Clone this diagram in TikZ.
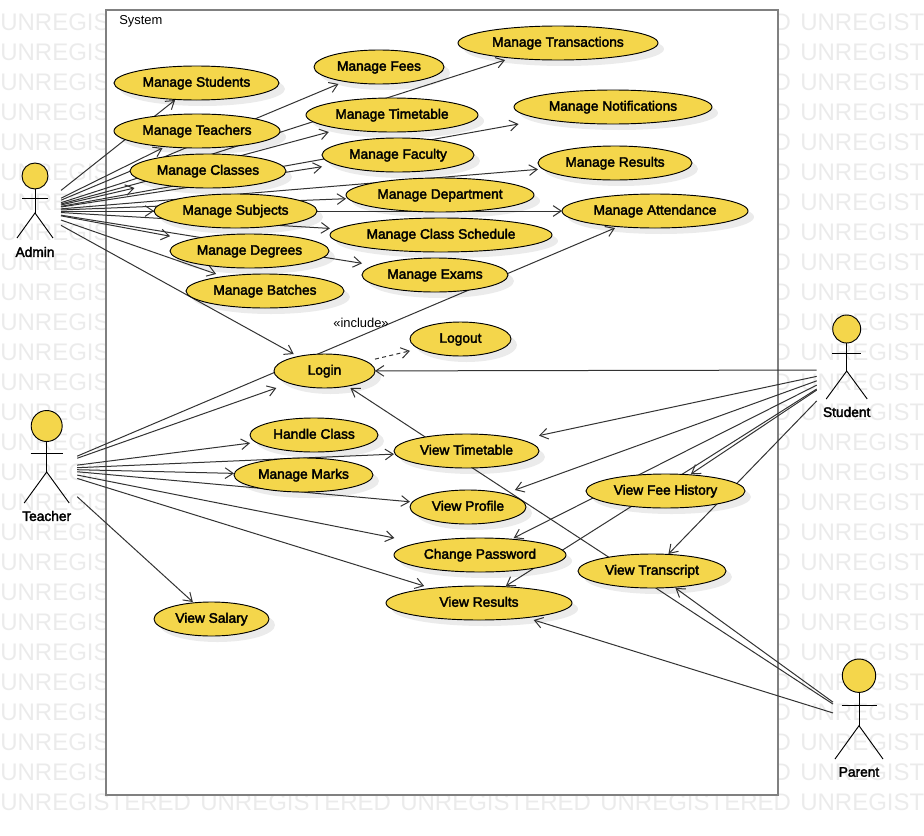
\documentclass[tikz,border=0pt]{standalone}
\usepackage{fontspec}
\setmainfont{Liberation Sans}
\newfontfamily\ucfont[FakeBold=2.5]{Liberation Sans}
\usetikzlibrary{arrows.meta,shadows}
\definecolor{ucyellow}{HTML}{F4D64B}
\definecolor{wmgray}{HTML}{EBEBEB}
\definecolor{boxgray}{HTML}{808080}
\definecolor{linegray}{HTML}{333333}
\pgfdeclarelayer{wmlayer}
\pgfdeclarelayer{boxlayer}
\pgfdeclarelayer{edgelayer}
\pgfsetlayers{wmlayer,boxlayer,edgelayer,main}
\newdimen\ucCx \newdimen\ucCy \newdimen\ucA \newdimen\ucB
\makeatletter
% use-case ellipse whose connectors stop at its bounding rectangle
\pgfdeclareshape{usecase}{
  \inheritsavedanchors[from=rectangle]
  \inheritanchorborder[from=rectangle]
  \inheritanchor[from=rectangle]{center}
  \inheritanchor[from=rectangle]{north}
  \inheritanchor[from=rectangle]{south}
  \inheritanchor[from=rectangle]{east}
  \inheritanchor[from=rectangle]{west}
  \backgroundpath{
    \southwest \pgf@xa=\pgf@x \pgf@ya=\pgf@y
    \northeast \pgf@xb=\pgf@x \pgf@yb=\pgf@y
    \ucCx=.5\pgf@xa \advance\ucCx by .5\pgf@xb
    \ucCy=.5\pgf@ya \advance\ucCy by .5\pgf@yb
    \ucA=.5\pgf@xb \advance\ucA by -.5\pgf@xa
    \ucB=.5\pgf@yb \advance\ucB by -.5\pgf@ya
    \pgfpathellipse{\pgfqpoint{\ucCx}{\ucCy}}{\pgfqpoint{\ucA}{0pt}}{\pgfqpoint{0pt}{\ucB}}
  }
}
\makeatother
\tikzset{
  uc/.style={shape=usecase,draw=black,line width=.7pt,fill=ucyellow,inner sep=0pt,outer sep=0pt,
    minimum height=25.5pt,minimum width=#1*0.75pt,font=\ucfont\fontsize{10.3pt}{12pt}\selectfont,
    text height=5.6pt,text depth=0pt,
    general shadow={shadow xshift=4.5pt,shadow yshift=-4.5pt,fill=black,opacity=.08}},
  actorbox/.style={shape=rectangle,inner sep=0pt,outer sep=0pt,minimum width=#1*0.75pt,minimum height=75pt},
  actorname/.style={inner sep=0pt,font=\ucfont\fontsize{10.3pt}{12pt}\selectfont},
  stick/.style={draw=black,line width=.7pt},
  assoc/.style={draw=linegray,line width=.75pt,-{Straight Barb[length=6pt,width=8pt,line width=.75pt]}},
  incl/.style={assoc,dashed,dash pattern=on 3pt off 2.5pt},
  wmark/.style={anchor=base west,inner sep=0pt,text=wmgray,font=\fontsize{18pt}{20pt}\selectfont},
  plainlabel/.style={inner sep=0pt,font=\fontsize{9.7pt}{12pt}\selectfont}
}
\newcommand{\actorfig}[8]{% x, head y, r, arm y, arm half, hip y, leg half, foot y
  \draw[stick] (#1,#2+#3) -- (#1,#6);
  \draw[stick] (#1-#5,#4) -- (#1+#5,#4);
  \draw[stick] (#1-#7,#8) -- (#1,#6) -- (#1+#7,#8);
  \draw[stick,fill=ucyellow] (#1,#2) circle[radius=#3];
}
\begin{document}
\begin{tikzpicture}[x=0.75pt,y=-0.75pt]
\useasboundingbox (0,0) rectangle (924,835);
% watermark
\begin{pgfonlayer}{wmlayer}
\begin{scope}
\clip (0,0) rectangle (924,835);
\foreach \r in {0,...,25}{
  \foreach \c in {0,600,800}{
    \node[wmark] (wm-\c-\r) at (\c,{30+30*\r}) {UNREGISTERED};
  }
}
\foreach \c in {0,200,400,600,800}{
  \node[wmark] (wmb-\c) at (\c,810) {UNREGISTERED};
}
\end{scope}
\end{pgfonlayer}
% system boundary
\begin{pgfonlayer}{boxlayer}
\path[draw=boxgray,line width=1.5pt,fill=white] (106,10) rectangle (778,795);
\end{pgfonlayer}
\node[plainlabel,anchor=west] (systemlabel) at (119,21) {System};
% actors
\node[actorbox=52] (admin) at (35,211) {};
\actorfig{35}{176}{13}{198}{13}{213}{18}{238}
\node[actorname] (adminlabel) at (35,252) {Admin};
\node[actorbox=61] (teacher) at (46.7,469) {};
\actorfig{46.7}{426}{15.5}{453}{16}{472}{22.5}{503}
\node[actorname] (teacherlabel) at (46.7,516) {Teacher};
\node[actorbox=60] (student) at (846.7,370) {};
\actorfig{846.7}{329}{14}{353}{14.5}{371}{20.5}{399}
\node[actorname] (studentlabel) at (846.7,412) {Student};
\node[actorbox=52] (parent) at (859,721) {};
\actorfig{859}{675.7}{16.7}{705}{17.5}{725.7}{24}{759}
\node[actorname] (parentlabel) at (859,772) {Parent};
% use cases
\node[uc=165] (mstudents) at (196.5,83) {Manage Students};
\node[uc=166] (mteachers) at (197,131) {Manage Teachers};
\node[uc=156] (mclasses) at (208,171) {Manage Classes};
\node[uc=163] (msubjects) at (235.5,211) {Manage Subjects};
\node[uc=159] (mdegrees) at (249.5,251) {Manage Degrees};
\node[uc=158] (mbatches) at (265,291) {Manage Batches};
\node[uc=130] (mfees) at (379,67) {Manage Fees};
\node[uc=172] (mtimetable) at (392,115) {Manage Timetable};
\node[uc=152] (mfaculty) at (398,155) {Manage Faculty};
\node[uc=188] (mdepartment) at (440,195) {Manage Department};
\node[uc=222] (mschedule) at (441,235) {Manage Class Schedule};
\node[uc=146] (mexams) at (435,275) {Manage Exams};
\node[uc=200] (mtransactions) at (558,43) {Manage Transactions};
\node[uc=198] (mnotifications) at (613,107) {Manage Notifications};
\node[uc=154] (mresults) at (615,163) {Manage Results};
\node[uc=186] (mattendance) at (655,211) {Manage Attendance};
\node[uc=101] (login) at (324.5,371) {Login};
\node[uc=101] (logout) at (460.5,339) {Logout};
\node[uc=128] (handleclass) at (314,435) {Handle Class};
\node[uc=139] (mmarks) at (303.5,475) {Manage Marks};
\node[uc=145] (vtimetable) at (466.5,451) {View Timetable};
\node[uc=116] (vprofile) at (468,507) {View Profile};
\node[uc=172] (changepw) at (480,555) {Change Password};
\node[uc=186] (vresults) at (479,603) {View Results};
\node[uc=159] (vfees) at (665.5,491) {View Fee History};
\node[uc=148] (vtranscript) at (652,571) {View Transcript};
\node[uc=115] (vsalary) at (211.5,619) {View Salary};
\node[plainlabel] (includelabel) at (361,323) {«include»};
% connectors
\begin{pgfonlayer}{edgelayer}
\foreach \t in {mstudents,mteachers,mclasses,msubjects,mdegrees,mbatches,mfees,mtimetable,mfaculty,mdepartment,mschedule,mexams,mtransactions,mnotifications,mresults,mattendance,login}{
  \draw[assoc] (admin) -- (\t);
}
\foreach \t in {login,mattendance,handleclass,vtimetable,mmarks,vprofile,changepw,vresults,vsalary}{
  \draw[assoc] (teacher) -- (\t);
}
\foreach \t in {login,vtimetable,vprofile,vfees,vtranscript,changepw,vresults}{
  \draw[assoc] (student) -- (\t);
}
\foreach \t in {login,vtranscript,vresults}{
  \draw[assoc] (parent) -- (\t);
}
\draw[incl] (login) -- (logout);
\end{pgfonlayer}
\end{tikzpicture}
\end{document}
